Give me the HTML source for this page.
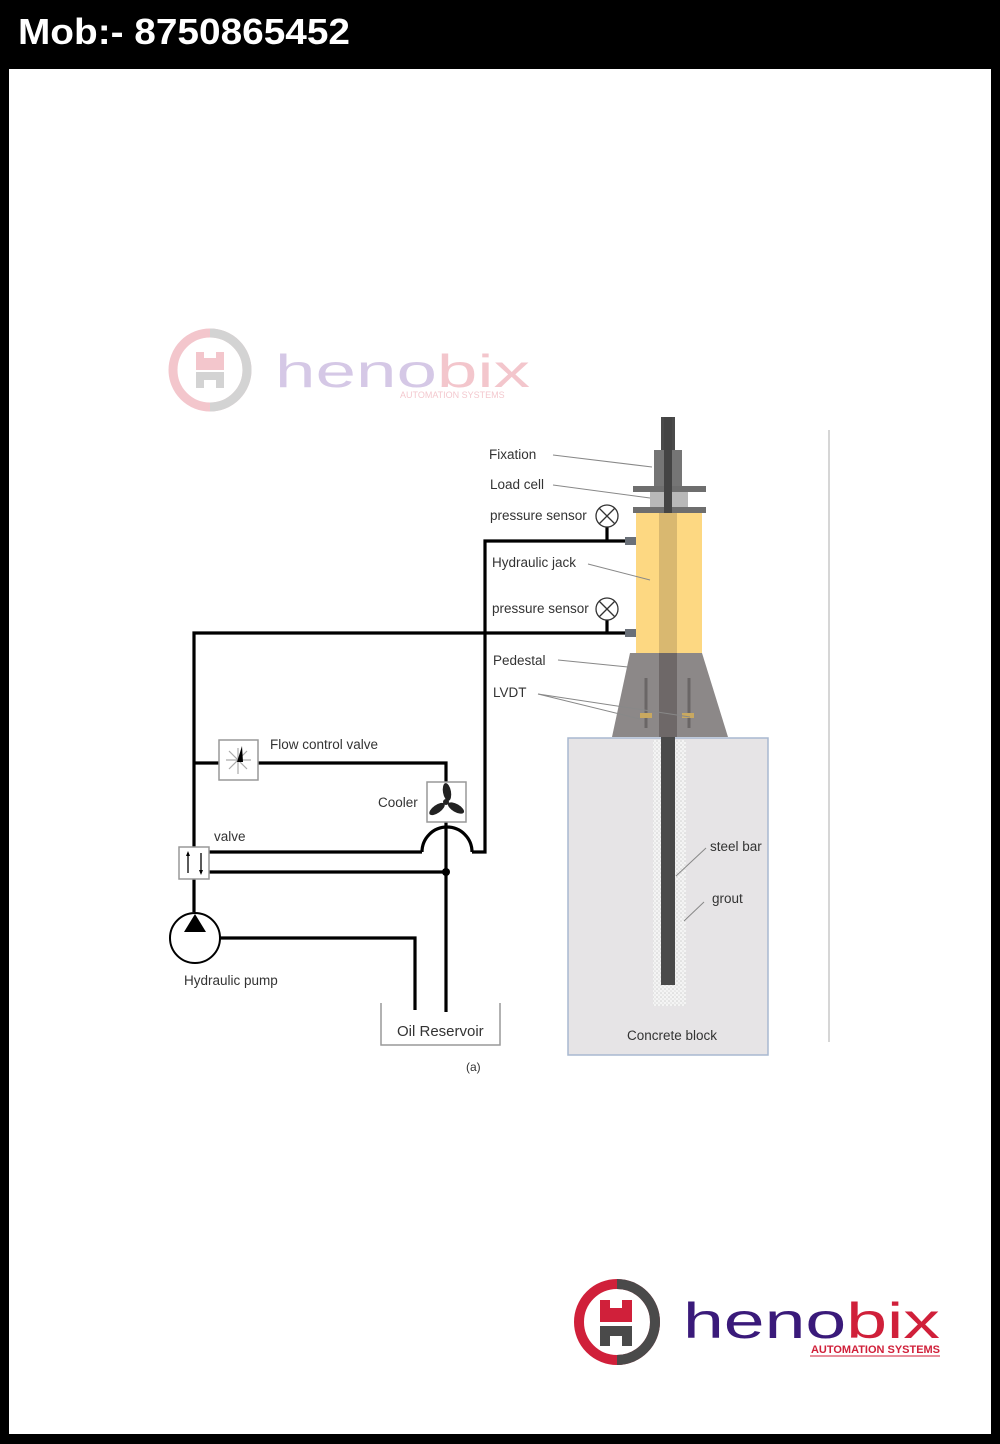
<!DOCTYPE html>
<html><head><meta charset="utf-8"><style>
html,body{margin:0;padding:0;background:#000;}
body{width:1000px;height:1444px;position:relative;overflow:hidden;font-family:"Liberation Sans",sans-serif;}
.pg{position:absolute;left:9px;top:69px;width:982px;height:1365px;background:#fff;}
svg{position:absolute;left:0;top:0;}
</style></head><body>
<div class="pg"></div>
<svg width="1000" height="1444" viewBox="0 0 1000 1444" font-family="Liberation Sans, sans-serif">
<defs>
<pattern id="dots" width="4" height="4" patternUnits="userSpaceOnUse"><rect width="4" height="4" fill="#f4f4f4"/><circle cx="1" cy="1" r="0.8" fill="#cfcfcf"/><circle cx="3" cy="3" r="0.8" fill="#dcdcdc"/></pattern>
</defs>
<text x="18" y="44" font-size="36" font-weight="bold" fill="#fff" textLength="332" lengthAdjust="spacingAndGlyphs">Mob:- 8750865452</text>
<!-- watermark -->
<g opacity="0.25">
<circle cx="210" cy="370" r="37" fill="none" stroke="#d0203a" stroke-width="9"/>
<path d="M210 333 A37 37 0 0 1 210 407" fill="none" stroke="#555" stroke-width="9"/>
<path d="M196 352 h8 v6 h12 v-6 h8 v18 h-28z" fill="#d0203a"/>
<path d="M196 372 h28 v16 h-8 v-8 h-12 v8 h-8z" fill="#555"/>
<text x="275" y="387" font-size="46" fill="#5a2aa0" textLength="255" lengthAdjust="spacingAndGlyphs">heno<tspan fill="#d0203a">bix</tspan></text>
<text x="400" y="398" font-size="9" fill="#d0203a">AUTOMATION SYSTEMS</text>
</g>
<line x1="829" y1="430" x2="829" y2="1042" stroke="#c8c8c8" stroke-width="1.5"/>
<!-- concrete block -->
<rect x="568" y="738" width="200" height="317" fill="#e6e4e6" stroke="#a8b8d0" stroke-width="1.5"/>
<rect x="653" y="740" width="33" height="266" fill="url(#dots)"/>
<rect x="661" y="737" width="14" height="248" fill="#4a4a4a"/>
<!-- pedestal -->
<polygon points="630,653 702,653 728,737 612,737" fill="#8c8888"/>
<rect x="659" y="653" width="18" height="84" fill="#6e6868"/>
<line x1="646" y1="678" x2="646" y2="728" stroke="#6a6666" stroke-width="3"/>
<line x1="689" y1="678" x2="689" y2="728" stroke="#6a6666" stroke-width="3"/>
<rect x="640" y="713" width="12" height="5" fill="#c8a860"/>
<rect x="682" y="713" width="12" height="5" fill="#c8a860"/>
<!-- jack -->
<rect x="636" y="513" width="66" height="140" fill="#fdd882"/>
<rect x="659" y="513" width="18" height="140" fill="#d9b870"/>
<!-- rod top -->
<rect x="661" y="417" width="14" height="96" fill="#4a4a4a"/>
<rect x="654" y="450" width="28" height="37" fill="#757575"/>
<rect x="633" y="486" width="73" height="6" fill="#6e6e6e"/>
<rect x="650" y="492" width="38" height="15" fill="#b8b8b8"/>
<rect x="633" y="507" width="73" height="6" fill="#6e6e6e"/>
<rect x="664" y="417" width="8" height="96" fill="#444"/>
<rect x="625" y="537" width="11" height="8" fill="#6a7078"/>
<rect x="625" y="629" width="11" height="8" fill="#6a7078"/>
<!-- hydraulic lines -->
<g fill="none" stroke="#000" stroke-width="3.2">
<polyline points="625,541 485,541 485,852 472,852"/>
<path d="M472 852 A25 25 0 0 0 422 852"/>
<polyline points="422,852 209,852"/>
<polyline points="625,633 194,633 194,847"/>
<line x1="607" y1="527" x2="607" y2="541"/>
<line x1="607" y1="620" x2="607" y2="633"/>
<polyline points="194,763 219,763"/>
<polyline points="258,763 446,763 446,782"/>
<line x1="446" y1="822" x2="446" y2="1012"/>
<line x1="209" y1="872" x2="446" y2="872"/>
<line x1="194" y1="879" x2="194" y2="912"/>
<polyline points="220,938 415,938 415,1010"/>
</g>
<circle cx="446" cy="872" r="4" fill="#000"/>
<g fill="#fff" stroke="#333" stroke-width="1.3">
<circle cx="607" cy="516" r="11"/><circle cx="607" cy="609" r="11"/>
</g>
<g stroke="#333" stroke-width="1.3">
<line x1="599" y1="508" x2="615" y2="524"/><line x1="615" y1="508" x2="599" y2="524"/>
<line x1="599" y1="601" x2="615" y2="617"/><line x1="615" y1="601" x2="599" y2="617"/>
</g>
<rect x="219" y="740" width="39" height="40" fill="#fff" stroke="#999" stroke-width="1.5"/>
<g stroke="#aaa" stroke-width="1.2">
<line x1="226" y1="760" x2="251" y2="760"/><line x1="238" y1="748" x2="238" y2="774"/>
<line x1="229" y1="751" x2="247" y2="769"/><line x1="247" y1="751" x2="229" y2="769"/>
</g>
<path d="M237 762 L242 746 L243 762 Z" fill="#000"/>
<rect x="427" y="782" width="39" height="40" fill="#fff" stroke="#999" stroke-width="1.5"/>
<g fill="#222">
<ellipse cx="447" cy="792" rx="4" ry="9" transform="rotate(-10 447 792)"/>
<ellipse cx="437" cy="809" rx="4" ry="9" transform="rotate(55 437 809)"/>
<ellipse cx="456" cy="808" rx="4" ry="9" transform="rotate(-60 456 808)"/>
<circle cx="446" cy="802" r="3"/>
</g>
<rect x="179" y="847" width="30" height="32" fill="#fff" stroke="#999" stroke-width="1.5"/>
<line x1="188" y1="853" x2="188" y2="873" stroke="#000" stroke-width="1.3"/>
<line x1="201" y1="853" x2="201" y2="873" stroke="#000" stroke-width="1.3"/>
<path d="M186 856 L188 851 L190 856Z M199 870 L201 875 L203 870Z" fill="#000"/>
<circle cx="195" cy="938" r="25" fill="#fff" stroke="#000" stroke-width="2"/>
<polygon points="195,914 184,932 206,932" fill="#000"/>
<polyline points="381,1003 381,1045 500,1045 500,1003" fill="none" stroke="#999" stroke-width="1.5"/>
<g stroke="#888" stroke-width="1">
<line x1="553" y1="455" x2="652" y2="467"/>
<line x1="553" y1="485" x2="650" y2="498"/>
<line x1="588" y1="564" x2="650" y2="580"/>
<line x1="558" y1="660" x2="628" y2="667"/>
<line x1="538" y1="694" x2="640" y2="719"/>
<line x1="538" y1="694" x2="690" y2="717"/>
<line x1="706" y1="848" x2="676" y2="876"/>
<line x1="704" y1="902" x2="684" y2="921"/>
</g>
<g font-size="13.5" fill="#333">
<text x="489" y="459">Fixation</text>
<text x="490" y="489">Load cell</text>
<text x="490" y="520">pressure sensor</text>
<text x="492" y="567">Hydraulic jack</text>
<text x="492" y="613">pressure sensor</text>
<text x="493" y="665">Pedestal</text>
<text x="493" y="697">LVDT</text>
<text x="270" y="749">Flow control valve</text>
<text x="378" y="807">Cooler</text>
<text x="214" y="841">valve</text>
<text x="184" y="985">Hydraulic pump</text>
<text x="397" y="1036" font-size="15">Oil Reservoir</text>
<text x="466" y="1071" font-size="12">(a)</text>
<text x="710" y="851">steel bar</text>
<text x="712" y="903">grout</text>
<text x="627" y="1040">Concrete block</text>
</g>
<!-- bottom logo -->
<circle cx="617" cy="1322" r="38" fill="none" stroke="#d0203a" stroke-width="10"/>
<path d="M617 1284 A38 38 0 0 1 617 1360" fill="none" stroke="#4a4a4a" stroke-width="10"/>
<path d="M600 1300 h10 v8 h12 v-8 h10 v22 h-32z" fill="#d0203a"/>
<path d="M600 1326 h32 v20 h-10 v-10 h-12 v10 h-10z" fill="#4a4a4a"/>
<text x="683" y="1338" font-size="50" fill="#3a1a7a" textLength="257" lengthAdjust="spacingAndGlyphs">heno<tspan fill="#d0203a">bix</tspan></text>
<text x="811" y="1353" font-size="11" font-weight="bold" fill="#d0203a" textLength="129" lengthAdjust="spacingAndGlyphs">AUTOMATION SYSTEMS</text>
<line x1="810" y1="1356" x2="940" y2="1356" stroke="#d0203a" stroke-width="1"/>
</svg>
</body></html>
